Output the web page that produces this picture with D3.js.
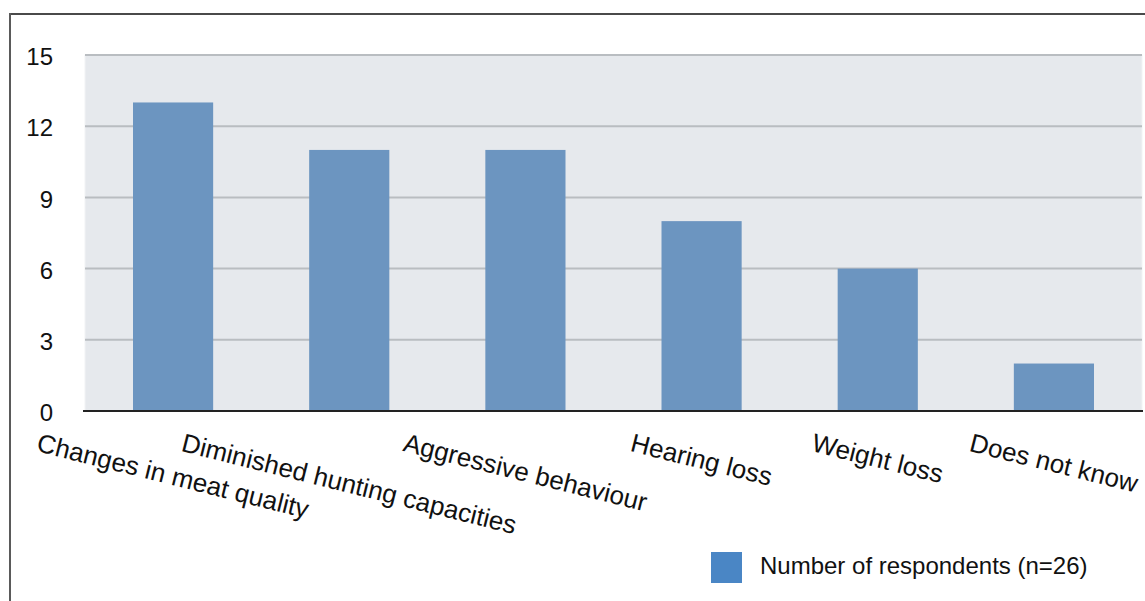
<!DOCTYPE html>
<html>
<head>
<meta charset="utf-8">
<script src="https://cdn.jsdelivr.net/npm/d3@7"></script>
<style>
  html, body { margin: 0; padding: 0; background: #fff; }
  svg { display: block; font-family: "Liberation Sans", Arial, Helvetica, sans-serif; }
</style>
</head>
<body>
<svg id="chart" width="1145" height="601"></svg>
<script>
// Reported signs in animals, by number of respondents
const categories = [
  "Changes in meat quality",
  "Diminished hunting capacities",
  "Aggressive behaviour",
  "Hearing loss",
  "Weight loss",
  "Does not know"
];
const respondents = [13, 11, 11, 8, 6, 2];
const yTicks = [0, 3, 6, 9, 12, 15];
const legendLabel = "Number of respondents (n=26)";

const W = 1145, H = 601;
const plot = { left: 85, right: 1142, top: 55, bottom: 411 };

const svg = d3.select("#chart");

// outer frame: top and left rules
svg.append("line").attr("x1", 10).attr("x2", W).attr("y1", 14).attr("y2", 14)
  .attr("stroke", "#4a4a4a").attr("stroke-width", 2);
svg.append("line").attr("x1", 10).attr("x2", 10).attr("y1", 13).attr("y2", H)
  .attr("stroke", "#5a5a5a").attr("stroke-width", 2);

const x = d3.scaleBand()
  .domain(categories)
  .range([plot.left, plot.right])
  .paddingInner(0.545)
  .paddingOuter(0.2725);

const y = d3.scaleLinear()
  .domain([0, 15])
  .range([plot.bottom, plot.top]);

// plot background
svg.append("rect")
  .attr("x", plot.left).attr("y", plot.top)
  .attr("width", plot.right - plot.left).attr("height", plot.bottom - plot.top)
  .attr("fill", "#e6e9ed")
  .attr("stroke", "#f1f3f5").attr("stroke-width", 1);

// horizontal gridlines
svg.append("g")
  .selectAll("line")
  .data(yTicks.filter(d => d > 0))
  .join("line")
  .attr("x1", plot.left).attr("x2", plot.right)
  .attr("y1", d => y(d)).attr("y2", d => y(d))
  .attr("stroke", "#b9bdc1").attr("stroke-width", 2);

// y axis labels
const yAxis = d3.axisLeft(y).tickValues(yTicks).tickSize(0).tickPadding(0);
const gy = svg.append("g").attr("transform", `translate(53,2)`).call(yAxis);
gy.select(".domain").remove();
gy.selectAll("text")
  .attr("font-size", 24)
  .attr("fill", "#111")
  .attr("font-family", "Liberation Sans, Arial, sans-serif");

// bars
svg.append("g")
  .selectAll("rect")
  .data(respondents)
  .join("rect")
  .attr("x", (d, i) => x(categories[i]))
  .attr("width", x.bandwidth())
  .attr("y", d => y(d))
  .attr("height", d => y(0) - y(d))
  .attr("fill", "#6c95c0");

// baseline
svg.append("line")
  .attr("x1", plot.left - 2).attr("x2", plot.right + 1)
  .attr("y1", y(0)).attr("y2", y(0))
  .attr("stroke", "#222").attr("stroke-width", 2);

// category labels, rotated and centred under each bar
const angle = 14;
const rad = angle * Math.PI / 180;
const xAxis = d3.axisBottom(x).tickSize(0);
const gx = svg.append("g").attr("transform", `translate(0,${plot.bottom})`).call(xAxis);
gx.select(".domain").remove();
gx.selectAll(".tick text")
  .attr("font-size", 26)
  .attr("fill", "#111")
  .attr("font-family", "Liberation Sans, Arial, sans-serif")
  .attr("text-anchor", "middle")
  .attr("dy", "0.35em")
  .attr("y", 0)
  .each(function () {
    const len = this.getComputedTextLength();
    const cy = 31 + (len / 2) * Math.sin(rad);
    d3.select(this).attr("transform", `translate(0,${cy}) rotate(${angle})`);
  });

// legend
const legend = svg.append("g").attr("transform", "translate(711,552)");
legend.append("rect").attr("width", 31).attr("height", 31).attr("fill", "#4a86c5");
legend.append("text")
  .attr("x", 49).attr("y", 22)
  .attr("font-size", 24)
  .attr("fill", "#111")
  .text(legendLabel);
</script>
</body>
</html>
